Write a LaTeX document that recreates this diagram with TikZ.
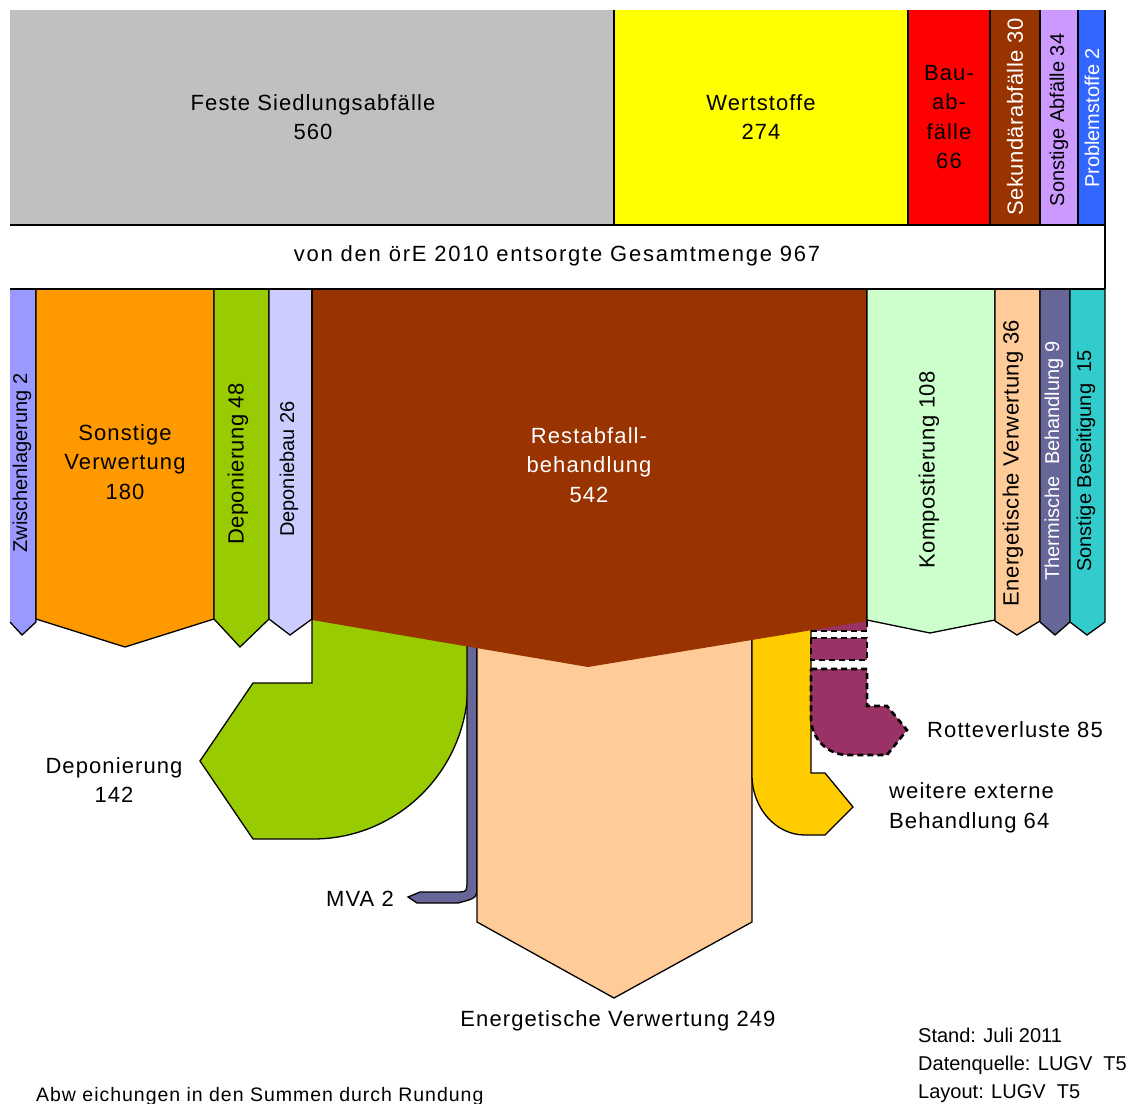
\documentclass[tikz,border=0pt]{standalone}
\usepackage{fontspec}
\setmainfont{Liberation Sans}
\newfontfamily\spfont[LetterSpace=5]{Liberation Sans}
\newfontfamily\spwide[LetterSpace=8]{Liberation Sans}
\newfontfamily\sptight[LetterSpace=2]{Liberation Sans}
\definecolor{cgrey}{HTML}{C0C0C0}
\definecolor{cyellow}{HTML}{FFFF00}
\definecolor{cred}{HTML}{FF0000}
\definecolor{cbrown}{HTML}{993300}
\definecolor{clav}{HTML}{CC99FF}
\definecolor{cblue}{HTML}{3366FF}
\definecolor{cperi}{HTML}{9999FF}
\definecolor{corange}{HTML}{FF9900}
\definecolor{cgreen}{HTML}{99CC00}
\definecolor{clilac}{HTML}{CCCCFF}
\definecolor{cmint}{HTML}{CCFFCC}
\definecolor{cpeach}{HTML}{FFCC99}
\definecolor{cslate}{HTML}{666699}
\definecolor{cteal}{HTML}{33CCCC}
\definecolor{cgold}{HTML}{FFCC00}
\definecolor{cmag}{HTML}{993366}
\begin{document}
\begin{tikzpicture}[x=1pt,y=-1pt,line join=miter,
  big/.style={font=\spfont\fontsize{22}{29.5}\selectfont, align=center, inner sep=0pt},
  small/.style={font=\fontsize{20}{28}\selectfont, align=center, inner sep=0pt},
  foot/.style={font=\spfont\fontsize{19.5}{24}\selectfont, inner sep=0pt},
  vbig/.style={font=\sptight\fontsize{22}{29.5}\selectfont, inner sep=0pt, rotate=90},
  vsmall/.style={small, rotate=90},
  ol/.style={draw=black, line width=1.3pt},
  dsh/.style={draw=black, line width=2.6pt, dash pattern=on 6pt off 4pt}]
\useasboundingbox (0,0) rectangle (1127,1103);
% top boxes
\fill[cgrey] (10,10) rectangle (614,225);
\fill[cyellow] (614,10) rectangle (908,225);
\fill[cred] (908,10) rectangle (990,225);
\fill[cbrown] (990,10) rectangle (1040,225);
\fill[clav] (1040,10) rectangle (1078,225);
\fill[cblue] (1078,10) rectangle (1105,225);
\draw[ol] (614,10)--(614,225) (908,10)--(908,225) (990,10)--(990,225)
  (1040,10)--(1040,225) (1078,10)--(1078,225) (1105,10)--(1105,289)
  (10,225)--(1105,225);
% flows below the Restabfall block
\filldraw[fill=cgreen, ol] (312,612)--(312,683)--(253,683)--(200,761)--(253,839)--(313,839)
  arc[start angle=90,end angle=0,x radius=155,y radius=156]--(468,612);
\filldraw[fill=cslate, ol] (467,612)--(467,880) .. controls (467,892) .. (455,892)--(420,892)
  --(408,897)--(417,903)--(458,903) .. controls (477,898) .. (477,885)--(477,612);
\filldraw[fill=cpeach, ol] (477,612)--(477,922)--(614,998)--(752,922)--(752,612);
\filldraw[fill=cgold, ol] (752,612)--(752,775)
  arc[start angle=180,end angle=90,x radius=53,y radius=60]--(825,835)--(853,807)--(825,773)
  --(811,773)--(811,612);
\fill[cmag] (811,612) rectangle (867,631);
\draw[dsh] (811,631)--(867,631)--(867,614);
\filldraw[fill=cmag, dsh] (811,638) rectangle (867,660);
\filldraw[fill=cmag, dsh] (811,669)--(867,669)--(867,706)--(887,706)--(907,730)--(887,755)--(848,755)
  arc[start angle=90,end angle=180,radius=37]--cycle;
% Restabfallbehandlung block
\fill[cbrown] (312,289)--(867,289)--(867,621)--(588,667)--(312,620)--cycle;
% lower columns
\fill[cperi] (10,289)--(36,289)--(36,622)--(22,635)--(10,622)--cycle;
\draw[ol] (10,622)--(22,635)--(36,622)--(36,289);
\filldraw[fill=corange, ol] (36,289)--(214,289)--(214,619)--(125,647)--(36,619)--cycle;
\filldraw[fill=cgreen, ol] (214,289)--(269,289)--(269,619)--(240,647)--(214,619)--cycle;
\filldraw[fill=clilac, ol] (269,289)--(312,289)--(312,619)--(290,635)--(269,619)--cycle;
\draw[ol] (312,289)--(312,620) (867,289)--(867,621);
\filldraw[fill=cmint, ol] (867,289)--(995,289)--(995,620)--(930,633)--(867,620)--cycle;
\filldraw[fill=cpeach, ol] (995,289)--(1040,289)--(1040,621)--(1017,635)--(995,621)--cycle;
\filldraw[fill=cslate, ol] (1040,289)--(1070,289)--(1070,622)--(1055,635)--(1040,622)--cycle;
\filldraw[fill=cteal, ol] (1070,289)--(1105,289)--(1105,622)--(1087,635)--(1070,622)--cycle;
\draw[ol] (10,289)--(1105,289);
% texts
\node[big] (t1) at (313,117) {Feste Siedlungsabfälle\\560};
\node[big] (t2) at (761,117) {Wertstoffe\\274};
\node[big] (t3) at (949,117) {Bau-\\ab-\\fälle\\66};
\node[vbig, text=white] (t4) at (1015,117) {Sekundärabfälle 30};
\node[vsmall] (t5) at (1059,120) {Sonstige Abfälle 34};
\node[vsmall, text=white] (t6) at (1092,118) {Problemstoffe 2};
\node[big, font=\spwide\fontsize{22}{29.5}\selectfont] (t7) at (557,256) {von den örE 2010 entsorgte Gesamtmenge 967};
\node[vsmall] (t8) at (22,463) {Zwischenlagerung 2};
\node[big] (t9) at (125,462) {Sonstige\\Verwertung\\180};
\node[vbig] (t10) at (238,464) {Deponierung 48};
\node[vsmall] (t11) at (289,469) {Deponiebau 26};
\node[big, text=white] (t12) at (589,465) {Restabfall-\\behandlung\\542};
\node[vbig] (t13) at (929,470) {Kompostierung 108};
\node[vbig] (t14) at (1013,463) {Energetische Verwertung 36};
\node[vsmall, text=white] (t15) at (1054,461) {Thermische\ \ Behandlung 9};
\node[vsmall] (t16) at (1086,461) {Sonstige Beseitigung\ \ 15};
\node[big] (t17) at (114,780) {Deponierung\\142};
\node[big, anchor=east] (t18) at (394,899) {MVA 2};
\node[big] (t19) at (618,1021) {Energetische Verwertung 249};
\node[big, anchor=west] (t20) at (927,730) {Rotteverluste 85};
\node[big, align=left, anchor=west] (t21) at (889,808) {weitere externe\\Behandlung 64};
\node[small, align=left, anchor=west] (t22) at (918,1065) {Stand: Juli 2011\\Datenquelle: LUGV\ \ T5\\Layout: LUGV\ \ T5};
\node[foot, anchor=west] (t23) at (36,1096) {Abw eichungen in den Summen durch Rundung};
\end{tikzpicture}
\end{document}
